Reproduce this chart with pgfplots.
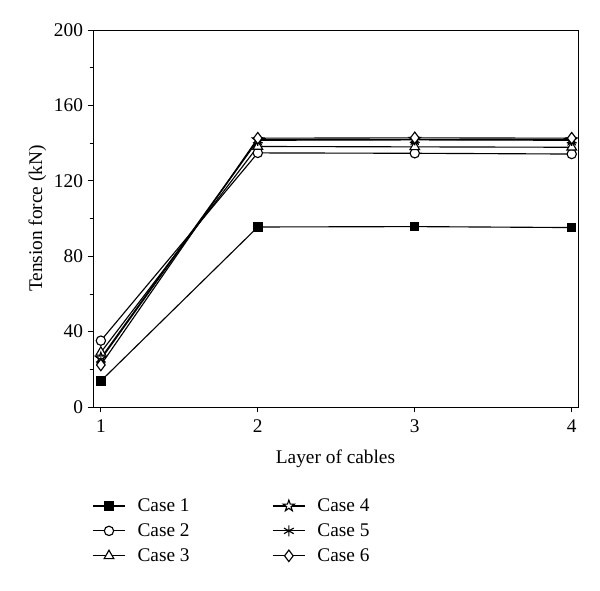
\documentclass[border=0pt]{standalone}
\usepackage{fontspec}
\setmainfont{Liberation Serif}
\usepackage{pgfplots}
\pgfplotsset{compat=1.18}
\pgfdeclareplotmark{ostar}{%
  \pgfpathmoveto{\pgfqpointpolar{90}{1.25\pgfplotmarksize}}%
  \pgfpathlineto{\pgfqpointpolar{126}{0.5\pgfplotmarksize}}%
  \pgfpathlineto{\pgfqpointpolar{162}{1.25\pgfplotmarksize}}%
  \pgfpathlineto{\pgfqpointpolar{198}{0.5\pgfplotmarksize}}%
  \pgfpathlineto{\pgfqpointpolar{234}{1.25\pgfplotmarksize}}%
  \pgfpathlineto{\pgfqpointpolar{270}{0.5\pgfplotmarksize}}%
  \pgfpathlineto{\pgfqpointpolar{306}{1.25\pgfplotmarksize}}%
  \pgfpathlineto{\pgfqpointpolar{342}{0.5\pgfplotmarksize}}%
  \pgfpathlineto{\pgfqpointpolar{18}{1.25\pgfplotmarksize}}%
  \pgfpathlineto{\pgfqpointpolar{54}{0.5\pgfplotmarksize}}%
  \pgfpathclose
  \pgfusepathqfillstroke}
\begin{document}
\begin{tikzpicture}
\useasboundingbox (-69.75pt,-137.25pt) rectangle (380.25pt,305.25pt);
\begin{axis}[
  at={(0,0)}, anchor=south west,
  scale only axis, width=363.75pt, height=282.75pt,
  xmin=0.95, xmax=4.04, ymin=0, ymax=200,
  xtick={1,2,3,4}, ytick={0,40,80,120,160,200},
  minor y tick num=1,
  tick align=outside, xtick pos=left, ytick pos=left,
  major tick length=4pt, minor tick length=2.5pt,
  tick style={black, line width=0.6pt},
  axis line style={line width=0.6pt},
  /pgf/number format/assume math mode=true,
  ticklabel style={font=\fontsize{14.5}{16}\selectfont},
  xticklabel style={yshift=-2pt},
  label style={font=\fontsize{14.5}{16}\selectfont},
  xlabel={Layer of cables}, ylabel={Tension force (kN)},
  xlabel style={yshift=-6pt},
  ylabel style={yshift=-1pt},
  legend style={at={(-0.01,-0.228)}, anchor=north west, draw=none,
    font=\fontsize{14.5}{16}\selectfont, row sep=3.6pt,
    /tikz/every odd column/.append style={column sep=7pt},
    /tikz/every even column/.append style={column sep=60pt}},
  legend columns=3, transpose legend,
  legend cell align=left,
  legend image code/.code={\draw[mark repeat=2,mark phase=2,#1] plot coordinates {(0pt,0pt) (12pt,0pt) (24pt,0pt)};},
  every axis plot/.append style={black, line width=0.85pt, mark size=3.5pt},
]
\addplot[mark=square*, mark options={fill=black, mark size=3.1pt}] coordinates {(1,13.8) (2,95.5) (3,95.7) (4,95.2)};
\addlegendentry{Case 1}
\addplot[mark=*, mark options={fill=white}] coordinates {(1,35.2) (2,134.8) (3,134.6) (4,134.2)};
\addlegendentry{Case 2}
\addplot[mark=triangle*, mark options={fill=white, mark size=4.2pt}] coordinates {(1,29.0) (2,138.2) (3,138.0) (4,137.8)};
\addlegendentry{Case 3}
\addplot[mark=ostar, mark options={fill=white}] coordinates {(1,26.0) (2,141.8) (3,142.0) (4,141.8)};
\addlegendentry{Case 4}
\addplot[mark=asterisk, mark options={mark size=4.2pt}] coordinates {(1,25.2) (2,141.5) (3,141.7) (4,141.5)};
\addlegendentry{Case 5}
\addplot[mark=diamond*, mark options={fill=white, mark size=4.3pt}] coordinates {(1,22.3) (2,142.6) (3,142.8) (4,142.6)};
\addlegendentry{Case 6}
\end{axis}
\end{tikzpicture}
\end{document}
